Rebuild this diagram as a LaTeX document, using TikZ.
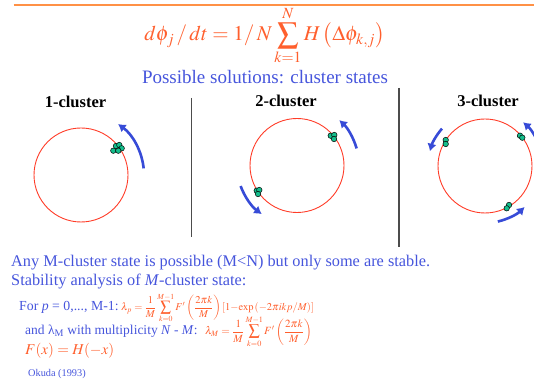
\documentclass[tikz,border=0pt]{standalone}
\usepackage{mathptmx}
\usepackage[no-math]{fontspec}
\setmainfont{Liberation Serif}
\usetikzlibrary{arrows.meta}

\definecolor{eqorange}{RGB}{255,95,45}
\definecolor{rulecol}{RGB}{255,145,70}
\definecolor{txtblue}{RGB}{70,85,220}
\definecolor{arrblue}{RGB}{55,75,215}
\definecolor{ringred}{RGB}{255,60,40}
\definecolor{oscteal}{RGB}{20,190,140}

\newcommand*{\ringr}{47pt}
\newcommand*{\pagew}{534}
\newcommand*{\pageh}{390}

\begin{document}
\begin{tikzpicture}
[
	x=1pt,y=1pt,
	ring/.style={draw=ringred,line width=0.9pt},
	osc/.style={circle,draw=black,fill=oscteal,line width=0.5pt,inner sep=0pt,minimum size=5.5pt},
	drift/.style={draw=arrblue,line width=2.6pt,-{Latex[length=7.5pt,width=9.5pt]}},
	divider/.style={draw=black!70,line width=1.1pt},
	clabel/.style={anchor=base,inner sep=0pt,font=\bfseries\fontsize{16.5}{19}\selectfont},
	txt/.style={anchor=base west,inner sep=0pt,text=txtblue},
	eq/.style={inner sep=0pt,text=eqorange}
]

	\useasboundingbox (0,0) rectangle (\pagew,\pageh);
	\clip (0,0) rectangle (\pagew,\pageh);

	% top rule
	\draw[rulecol,line width=2pt] (13.6,385) -- (\pagew,385);

	% equation of motion
	\node[eq,anchor=base] (dyn) at (264.5,349)
		{\fontsize{21}{25}\selectfont$\displaystyle d\phi_j\,/\,dt=1/\,N\sum_{k=1}^{N}H\left(\Delta\phi_{k,j}\right)$};
	\node[txt,anchor=base,font=\fontsize{19}{22}\selectfont] (sol) at (265,306.4) {Possible solutions: cluster states};

	% centres of the rings
	\coordinate (ring1) at (81,215);
	\coordinate (ring2) at (297,224.5);
	\coordinate (ring3) at (485,224);

	% dividers
	\draw[divider] (191.7,292) -- (191.7,153);
	\draw[divider] (399,302) -- (399,143);

	% 1-cluster
	\node[clabel] (lab1) at (75.5,282.7) {1-cluster};
	\draw[ring] (ring1) circle[radius=\ringr];
	\node[osc] (o1a) at (113.3,239.3) {};
	\node[osc] (o1b) at (116,244) {};
	\node[osc] (o1c) at (119.3,245) {};
	\node[osc] (o1d) at (121.7,241.7) {};
	\node[osc] (o1e) at (118.3,239.3) {};
	\draw[drift] (ring1) ++(6:63pt) arc[start angle=6,end angle=54,radius=63pt];

	% 2-cluster
	\node[clabel] (lab2) at (286,283.3) {2-cluster};
	\draw[ring] (ring2) circle[radius=\ringr];
	\node[osc] (o2a) at (330.7,254.3) {};
	\node[osc] (o2b) at (334.3,255) {};
	\node[osc] (o2c) at (334,251) {};
	\node[osc] (o2d) at (256.7,199.3) {};
	\node[osc] (o2e) at (259.3,200) {};
	\node[osc] (o2f) at (258,196) {};
	\draw[drift] (ring2) ++(16:62pt) arc[start angle=16,end angle=47,radius=62pt];
	\draw[drift] (ring2) ++(200:60pt) arc[start angle=200,end angle=234,radius=60pt];

	% 3-cluster
	\node[clabel] (lab3) at (488,283.3) {3-cluster};
	\draw[ring] (ring3) circle[radius=\ringr];
	\node[osc] (o3a) at (445.7,250) {};
	\node[osc] (o3b) at (445.7,246) {};
	\node[osc] (o3c) at (520,254.3) {};
	\node[osc] (o3d) at (522.3,252.3) {};
	\node[osc] (o3e) at (509,185) {};
	\node[osc] (o3f) at (506.7,181.7) {};
	\draw[drift] (ring3) ++(139:57pt) arc[start angle=139,end angle=165,radius=57pt];
	\draw[drift] (ring3) ++(18:58pt) arc[start angle=18,end angle=49,radius=58pt];
	\draw[drift] (ring3) ++(-77:57pt) arc[start angle=-77,end angle=-46,radius=57pt];

	% stability text
	\node[txt,font=\fontsize{16.3}{19}\selectfont] (any) at (11,123.5)
		{Any M-cluster state is possible (M<N) but only some are stable.};
	\node[txt,font=\fontsize{16.3}{19}\selectfont] (stab) at (11,104)
		{Stability analysis of \textit{M}-cluster state:};
	\node[txt,font=\fontsize{13.8}{16}\selectfont] (forp) at (19,79.4)
		{For \textit{p} = 0,..., M-1:};
	\node[eq,anchor=base west,font=\fontsize{10.5}{12}\selectfont] (lamp) at (121,79.4)
		{$\displaystyle\lambda_p=\frac{1}{M}\sum_{k=0}^{M-1}F'\left(\frac{2\pi k}{M}\right)\left[1{-}\mathrm{exp}\left({-}2\pi ikp/M\right)\right]$};
	\node[txt,font=\fontsize{13.5}{16}\selectfont] (andl) at (25,55.4)
		{and λ\textsubscript{M} with multiplicity \textit{N} - \textit{M}:};
	\node[eq,anchor=base west,font=\fontsize{11}{13}\selectfont] (lamM) at (205,55.4)
		{$\displaystyle\lambda_M=\frac{1}{M}\sum_{k=0}^{M-1}F'\left(\frac{2\pi k}{M}\right)$};
	\node[eq,anchor=base west,font=\fontsize{15}{18}\selectfont] (fdef) at (25,35) {$F(x)=H(-x)$};
	\node[txt,font=\fontsize{10.3}{12}\selectfont] (ref) at (28,14) {Okuda (1993)};

\end{tikzpicture}
\end{document}
